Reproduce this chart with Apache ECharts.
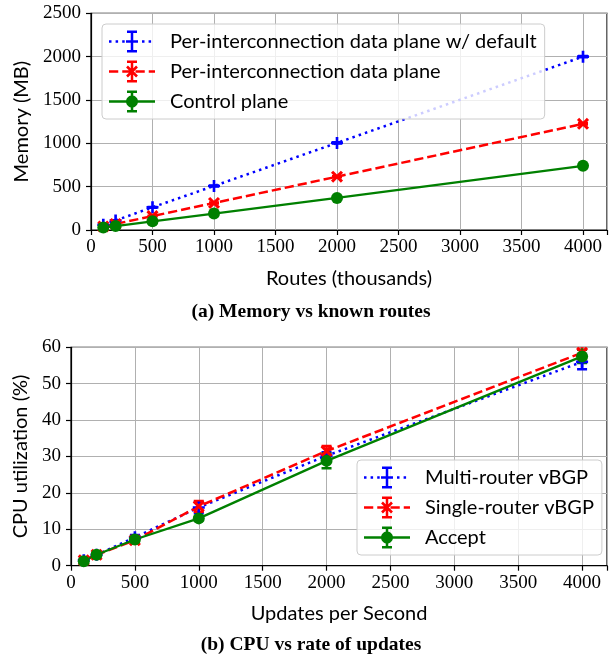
<!DOCTYPE html>
<html>
<head>
<meta charset="utf-8">
<script src="https://cdn.jsdelivr.net/npm/echarts@6/dist/echarts.min.js"></script>
<style>html,body{margin:0;padding:0;background:#fff}#c{width:610px;height:656px}</style>
</head>
<body>
<div id="c"></div>
<script>
// ---------- data ----------
const routesK = [100, 200, 500, 1000, 2000, 4000];
const memWithDefault = [60, 110, 262, 508, 1005, 2000];
const memWithDefaultErr = [3, 3, 4, 5, 6, 8];
const memDataPlane = [40, 70, 160, 312, 615, 1225];
const memDataPlaneErr = [3, 3, 4, 5, 6, 8];
const memControl = [28, 45, 100, 190, 370, 740];
const memControlErr = [2, 2, 3, 3, 4, 5];

const updatesPerSec = [100, 200, 500, 1000, 2000, 4000];
const cpuMulti = [1.5, 3.0, 7.8, 16.0, 30.2, 56.0];
const cpuMultiErr = [0.4, 0.4, 0.6, 1.5, 1.0, 2.0];
const cpuSingle = [1.5, 3.0, 7.0, 16.3, 31.5, 58.5];
const cpuSingleErr = [0.5, 0.4, 0.5, 1.5, 1.4, 1.8];
const cpuAccept = [1.2, 3.0, 7.2, 13.0, 28.8, 57.5];
const cpuAcceptErr = [0.4, 0.3, 0.5, 0.5, 2.0, 1.8];

const xTickLabels = [0, 500, 1000, 1500, 2000, 2500, 3000, 3500, 4000];
const memTickLabels = [0, 500, 1000, 1500, 2000, 2500];
const cpuTickLabels = [0, 10, 20, 30, 40, 50, 60];

const namesTop = ['Per-interconnection data plane w/ default', 'Per-interconnection data plane', 'Control plane'];
const namesBottom = ['Multi-router vBGP', 'Single-router vBGP', 'Accept'];

// ---------- style helpers ----------
const BLUE = '#0000ff', RED = '#ff0000', GREEN = '#008000';
const SANS = 'Lato';
const SERIF = 'Liberation Serif';
const PLUS = 'path://M3.9,0H6.1V3.9H10V6.1H6.1V10H3.9V6.1H0V3.9H3.9Z';

function rect(x0, y0, x1, y1) { return `M${x0} ${y0}L${x0} ${y1}L${x1} ${y1}L${x1} ${y0}Z`; }
function seg(px, py, qx, qy, w) {
  const dx = qx - px, dy = qy - py, l = Math.hypot(dx, dy);
  const nx = -dy / l * w / 2, ny = dx / l * w / 2;
  return `M${px+nx} ${py+ny}L${qx+nx} ${qy+ny}L${qx-nx} ${qy-ny}L${px-nx} ${py-ny}Z`;
}
function circ(cx, cy, r) {
  let s = '';
  for (let i = 0; i <= 36; i++) {
    const t = -i / 36 * Math.PI * 2;
    s += (i === 0 ? 'M' : 'L') + (cx + r * Math.cos(t)).toFixed(2) + ' ' + (cy + r * Math.sin(t)).toFixed(2);
  }
  return s + 'Z';
}
const IW = 56, IH = 22, HW = 46, CY = 11, CX = 23;
function legendIcon(kind) {
  let p = 'M0 0L0 0Z M' + IW + ' ' + IH + 'L' + IW + ' ' + IH + 'Z ';
  const lw = 2.5;
  if (kind === 'dot') {
    for (let x = 0; x + 2.5 <= HW; x += 6.6) p += rect(x, CY - lw/2, x + 2.5, CY + lw/2);
  } else if (kind === 'dash') {
    for (let x = 0; x < HW; x += 13.25) p += rect(x, CY - lw/2, Math.min(x + 9.25, HW), CY + lw/2);
  } else {
    p += rect(0, CY - 1.15, HW, CY + 1.15);
  }
  p += rect(CX - 1.25, 0, CX + 1.25, IH);
  p += rect(CX - 5, 0, CX + 5, 2.5);
  p += rect(CX - 5, IH - 2.5, CX + 5, IH);
  if (kind === 'dot') p += rect(CX - 6, CY - 1.3, CX + 6, CY + 1.3);
  else if (kind === 'dash') { p += seg(CX - 5, CY - 5, CX + 5, CY + 5, 2.6); p += seg(CX - 5, CY + 5, CX + 5, CY - 5, 2.6); }
  else p += circ(CX, CY, 6);
  return 'path://' + p;
}

function lineSeries(name, gi, xs, ys, color, lineType, lw, symbol, size, rot) {
  return {
    name, type: 'line', xAxisIndex: gi, yAxisIndex: gi,
    data: xs.map((x, i) => [x, ys[i]]),
    symbol, symbolSize: size, symbolRotate: rot || 0,
    itemStyle: { color, borderWidth: 0 },
    lineStyle: { color, width: lw, type: lineType, cap: 'butt' },
    emphasis: { disabled: true }, animation: false, z: 2
  };
}
function errSeries(gi, xs, ys, errs, color) {
  return {
    type: 'custom', xAxisIndex: gi, yAxisIndex: gi, clip: true, silent: true, animation: false, z: 2,
    data: xs.map((x, i) => [x, ys[i] - errs[i], ys[i] + errs[i]]),
    renderItem: (params, api) => {
      const lo = api.coord([api.value(0), api.value(1)]);
      const hi = api.coord([api.value(0), api.value(2)]);
      const hw = 5;
      const style = { stroke: color, lineWidth: 2.5, fill: null };
      return { type: 'group', children: [
        { type: 'line', shape: { x1: lo[0], y1: lo[1], x2: hi[0], y2: hi[1] }, style },
        { type: 'line', shape: { x1: lo[0] - hw, y1: lo[1], x2: lo[0] + hw, y2: lo[1] }, style },
        { type: 'line', shape: { x1: hi[0] - hw, y1: hi[1], x2: hi[0] + hw, y2: hi[1] }, style }
      ]};
    }
  };
}
function xAxis(gi, name, gap) {
  return {
    type: 'value', gridIndex: gi, min: 0, max: 4195, interval: 500,
    name, nameLocation: 'middle', nameGap: gap,
    nameTextStyle: { fontFamily: SANS, fontSize: 20, color: '#000' },
    axisLine: { lineStyle: { color: '#000', width: 1.2 } },
    axisTick: { show: true, length: 5, lineStyle: { color: '#000', width: 1.2 } },
    axisLabel: { fontFamily: SERIF, fontSize: 19, color: '#000', margin: 8,
      formatter: v => xTickLabels.indexOf(v) >= 0 ? String(v) : '' },
    splitLine: { show: true, lineStyle: { color: '#b0b0b0', width: 1 } }
  };
}
function yAxis(gi, name, max, interval, labels, gap) {
  return {
    type: 'value', gridIndex: gi, min: 0, max, interval,
    name, nameLocation: 'middle', nameGap: gap,
    nameTextStyle: { fontFamily: SANS, fontSize: 20, color: '#000' },
    axisLine: { show: true, lineStyle: { color: '#000', width: 1.2 } },
    axisTick: { show: true, length: 5, lineStyle: { color: '#000', width: 1.2 } },
    axisLabel: { fontFamily: SERIF, fontSize: 19, color: '#000', margin: 10,
      formatter: v => labels.indexOf(v) >= 0 ? String(v) : '' },
    splitLine: { show: true, lineStyle: { color: '#b0b0b0', width: 1 } }
  };
}
function legend(names, kinds, left, top) {
  return {
    left, top, orient: 'vertical', itemGap: 8, itemWidth: IW, itemHeight: IH,
    symbolKeepAspect: false, selectedMode: false,
    padding: [6.5, 8, 6.5, 7],
    backgroundColor: 'rgba(255,255,255,0.8)', borderColor: '#cccccc', borderWidth: 1, borderRadius: 4,
    itemStyle: { borderWidth: 0 },
    textStyle: { fontFamily: SANS, fontSize: 20, color: '#000' },
    data: names.map((n, i) => ({ name: n, icon: legendIcon(kinds[i]) }))
  };
}

const option = {
  animation: false,
  grid: [
    { left: 91, top: 13.3, width: 525, height: 216.7, show: true, borderColor: '#000', borderWidth: 1.2, backgroundColor: 'transparent' },
    { left: 71, top: 347.3, width: 546, height: 218.4, show: true, borderColor: '#000', borderWidth: 1.2, backgroundColor: 'transparent' }
  ],
  xAxis: [xAxis(0, 'Routes (thousands)', 39), xAxis(1, 'Updates per Second', 38)],
  yAxis: [yAxis(0, 'Memory (MB)', 2500, 500, memTickLabels, 59), yAxis(1, 'CPU utilization (%)', 60, 10, cpuTickLabels, 40)],
  legend: [
    legend(namesTop, ['dot', 'dash', 'solid'], 102, 24),
    legend(namesBottom, ['dot', 'dash', 'solid'], 357, 460)
  ],
  series: [
    lineSeries(namesTop[0], 0, routesK, memWithDefault, BLUE, [2.5, 4.1], 2.5, PLUS, 12),
    errSeries(0, routesK, memWithDefault, memWithDefaultErr, BLUE),
    lineSeries(namesTop[1], 0, routesK, memDataPlane, RED, [9.25, 4], 2.5, PLUS, 14, 45),
    errSeries(0, routesK, memDataPlane, memDataPlaneErr, RED),
    lineSeries(namesTop[2], 0, routesK, memControl, GREEN, 'solid', 2.3, 'circle', 12),
    errSeries(0, routesK, memControl, memControlErr, GREEN),

    lineSeries(namesBottom[0], 1, updatesPerSec, cpuMulti, BLUE, [2.5, 4.1], 2.5, PLUS, 12),
    errSeries(1, updatesPerSec, cpuMulti, cpuMultiErr, BLUE),
    lineSeries(namesBottom[1], 1, updatesPerSec, cpuSingle, RED, [9.25, 4], 2.5, PLUS, 14, 45),
    errSeries(1, updatesPerSec, cpuSingle, cpuSingleErr, RED),
    lineSeries(namesBottom[2], 1, updatesPerSec, cpuAccept, GREEN, 'solid', 2.3, 'circle', 12),
    errSeries(1, updatesPerSec, cpuAccept, cpuAcceptErr, GREEN)
  ],
  graphic: [
    { type: 'text', x: 311, y: 312, style: { text: '(a) Memory vs known routes', font: 'bold 19.5px "Liberation Serif"', fill: '#000', textAlign: 'center', textVerticalAlign: 'middle', align: 'center', verticalAlign: 'middle' } },
    { type: 'text', x: 311, y: 645, style: { text: '(b) CPU vs rate of updates', font: 'bold 19.5px "Liberation Serif"', fill: '#000', textAlign: 'center', textVerticalAlign: 'middle', align: 'center', verticalAlign: 'middle' } }
  ]
};
const chart = echarts.init(document.getElementById('c'), null, { renderer: 'canvas' });
chart.setOption(option);
</script>
</body>
</html>
